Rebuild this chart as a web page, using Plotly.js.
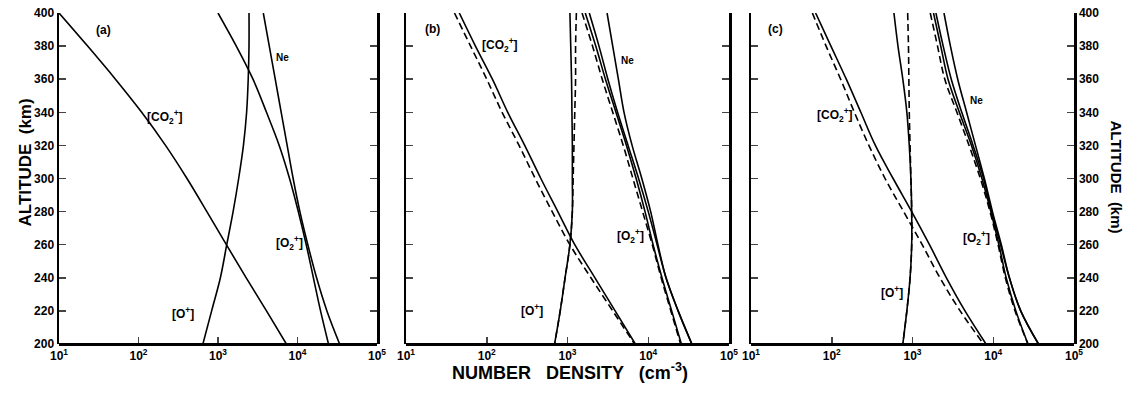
<!DOCTYPE html>
<html>
<head>
<meta charset="utf-8">
<script src="https://cdn.plot.ly/plotly-3.0.1.min.js"></script>
<style>html,body{margin:0;padding:0;background:#fff;}#chart{width:1141px;height:406px;}</style>
</head>
<body>
<div id="chart"></div>
<script>
// Altitude grid (km)
const altitude = [400, 380, 360, 340, 320, 300, 280, 260, 240, 220, 200];

// log10 of number density (cm^-3)
// Panel (a)
const a_CO2 = [1.00, 1.36, 1.71, 2.04, 2.34, 2.61, 2.86, 3.105, 3.355, 3.61, 3.86];
const a_Op  = [3.39, 3.39, 3.38, 3.36, 3.32, 3.26, 3.19, 3.11, 3.03, 2.92, 2.81];
const a_O2p = [3.00, 3.23, 3.44, 3.61, 3.77, 3.90, 4.01, 4.11, 4.20, 4.29, 4.39];
const a_Ne  = [3.57, 3.645, 3.72, 3.795, 3.87, 3.945, 4.03, 4.13, 4.24, 4.37, 4.53];

// Panel (b)
const b_CO2       = [1.66, 1.86, 2.07, 2.26, 2.47, 2.67, 2.88, 3.09, 3.34, 3.59, 3.84];
const b_CO2_dash  = [1.60, 1.80, 2.00, 2.19, 2.40, 2.60, 2.81, 3.03, 3.29, 3.56, 3.83];
const b_Op        = [3.03, 3.04, 3.05, 3.055, 3.06, 3.06, 3.06, 3.03, 2.97, 2.91, 2.84];
const b_Op_dash   = [3.11, 3.10, 3.10, 3.09, 3.08, 3.07, 3.06, 3.03, 2.97, 2.91, 2.84];
const b_O2p       = [3.22, 3.35, 3.47, 3.60, 3.73, 3.85, 3.96, 4.06, 4.17, 4.29, 4.41];
const b_O2p_dash  = [3.18, 3.31, 3.43, 3.56, 3.69, 3.81, 3.93, 4.05, 4.16, 4.28, 4.40];
const b_O2p_alt   = [3.27, 3.39, 3.50, 3.62, 3.75, 3.88, 4.00, 4.11, 4.22, 4.37, 4.54];
const b_Ne        = [3.49, 3.56, 3.63, 3.70, 3.80, 3.92, 4.03, 4.12, 4.22, 4.37, 4.54];

// Panel (c)
const c_CO2       = [1.80, 1.99, 2.18, 2.36, 2.54, 2.76, 2.99, 3.21, 3.42, 3.65, 3.91];
const c_CO2_dash  = [1.76, 1.93, 2.11, 2.28, 2.46, 2.66, 2.89, 3.12, 3.34, 3.59, 3.88];
const c_Op        = [2.77, 2.82, 2.88, 2.93, 2.96, 2.98, 2.99, 2.99, 2.97, 2.93, 2.88];
const c_Op_dash   = [2.94, 2.95, 2.955, 2.96, 2.97, 2.98, 2.99, 2.99, 2.97, 2.93, 2.88];
const c_O2p       = [3.26, 3.35, 3.44, 3.58, 3.73, 3.86, 3.97, 4.07, 4.16, 4.28, 4.43];
const c_O2p_dash  = [3.22, 3.31, 3.40, 3.55, 3.70, 3.84, 3.96, 4.06, 4.15, 4.27, 4.43];
const c_O2p_alt   = [3.29, 3.38, 3.48, 3.61, 3.75, 3.88, 3.98, 4.09, 4.20, 4.34, 4.56];
const c_Ne        = [3.39, 3.47, 3.56, 3.67, 3.78, 3.89, 3.99, 4.10, 4.20, 4.34, 4.56];

// Tick labels
const xTickVals = [10, 100, 1000, 10000, 100000];
const xTickText = ['10<sup>1</sup>', '10<sup>2</sup>', '10<sup>3</sup>', '10<sup>4</sup>', '10<sup>5</sup>'];
const yTickVals = [200, 220, 240, 260, 280, 300, 320, 340, 360, 380, 400];

const W = 1141, H = 406;
const px = x => x / W;
const py = y => 1 - y / H;

function tr(logs, ax, dashed) {
  return {
    x: logs.map(v => Math.pow(10, v)),
    y: altitude,
    xaxis: 'x' + (ax === 1 ? '' : ax),
    yaxis: 'y' + (ax === 1 ? '' : ax),
    mode: 'lines',
    line: {color: '#000', width: 1.6, dash: dashed ? '7px,4px' : 'solid', shape: 'spline', smoothing: 1},
    hoverinfo: 'skip',
    showlegend: false
  };
}

const data = [
  tr(a_CO2, 1), tr(a_Op, 1), tr(a_O2p, 1), tr(a_Ne, 1),
  tr(b_CO2, 2), tr(b_CO2_dash, 2, true), tr(b_Op, 2), tr(b_Op_dash, 2, true),
  tr(b_O2p, 2), tr(b_O2p_dash, 2, true), tr(b_O2p_alt, 2), tr(b_Ne, 2),
  tr(c_CO2, 3), tr(c_CO2_dash, 3, true), tr(c_Op, 3), tr(c_Op_dash, 3, true),
  tr(c_O2p, 3), tr(c_O2p_dash, 3, true), tr(c_O2p_alt, 3), tr(c_Ne, 3)
];

const tickFont = {family: 'Liberation Sans, Arial, sans-serif', size: 12, color: '#000', weight: 'bold'};

function xax(x0, x1) {
  return {
    type: 'log', range: [1, 5], domain: [px(x0), px(x1)], anchor: 'free', position: py(344),
    tickvals: xTickVals, ticktext: xTickText, ticks: 'inside', ticklen: 6, tickwidth: 1.5,
    showline: true, linecolor: '#000', linewidth: 2.5, mirror: 'ticks', showgrid: false,
    zeroline: false, tickfont: tickFont, automargin: false, fixedrange: true
  };
}
function yax(anchor, showLabels, side) {
  return {
    range: [200, 400], domain: [py(344), py(13)], anchor: anchor, side: side || 'left',
    tickvals: yTickVals, ticks: 'inside', ticklen: 7, tickwidth: 1.5,
    showticklabels: showLabels, showline: true, linecolor: '#000', linewidth: 2.5,
    mirror: 'ticks', showgrid: false, zeroline: false, tickfont: tickFont,
    automargin: false, fixedrange: true
  };
}

const lblFont = {family: 'Liberation Sans, Arial, sans-serif', size: 12, color: '#000', weight: 'bold'};
function ann(x, y, text, size) {
  return {xref: 'paper', yref: 'paper', x: px(x), y: py(y), text: text, showarrow: false,
          font: Object.assign({}, lblFont, size ? {size: size} : {}), xanchor: 'center', yanchor: 'middle'};
}

const annotations = [
  ann(103, 30, '(a)'), ann(282, 57, 'Ne', 10), ann(165, 117, '[CO<sub>2</sub><sup>+</sup>]'),
  ann(289, 243, '[O<sub>2</sub><sup>+</sup>]'), ann(183, 313, '[O<sup>+</sup>]'),
  ann(432, 29, '(b)'), ann(500, 45, '[CO<sub>2</sub><sup>+</sup>]'), ann(627, 61, 'Ne', 10),
  ann(630, 236, '[O<sub>2</sub><sup>+</sup>]'), ann(532, 310, '[O<sup>+</sup>]'),
  ann(775, 29, '(c)'), ann(835, 115, '[CO<sub>2</sub><sup>+</sup>]'), ann(976, 100, 'Ne', 10),
  ann(976, 238, '[O<sub>2</sub><sup>+</sup>]'), ann(892, 292, '[O<sup>+</sup>]'),
  {xref: 'paper', yref: 'paper', x: px(13), y: py(163), text: 'ALTITUDE  (km)', showarrow: false,
   textangle: -90, font: {family: 'Liberation Sans, Arial, sans-serif', size: 17, color: '#000', weight: 'bold'}},
  {xref: 'paper', yref: 'paper', x: px(1127), y: py(177), text: 'ALTITUDE  (km)', showarrow: false,
   textangle: 90, font: {family: 'Liberation Sans, Arial, sans-serif', size: 15, color: '#000', weight: 'bold'}},
  {xref: 'paper', yref: 'paper', x: px(570), y: py(385), text: 'NUMBER   DENSITY   (cm<sup>-3</sup>)', showarrow: false,
   font: {family: 'Liberation Sans, Arial, sans-serif', size: 18, color: '#000', weight: 'bold'}}
];

const layout = {
  width: W, height: H, margin: {l: 0, r: 0, t: 0, b: 0},
  paper_bgcolor: '#fff', plot_bgcolor: '#fff', showlegend: false,
  xaxis: xax(59, 377), yaxis: yax('x', true, 'left'),
  xaxis2: xax(406, 729), yaxis2: yax('x2', false, 'left'),
  xaxis3: xax(751, 1074), yaxis3: yax('x3', true, 'right'),
  annotations: annotations
};

Plotly.newPlot('chart', data, layout, {staticPlot: true, displayModeBar: false});
</script>
</body>
</html>
